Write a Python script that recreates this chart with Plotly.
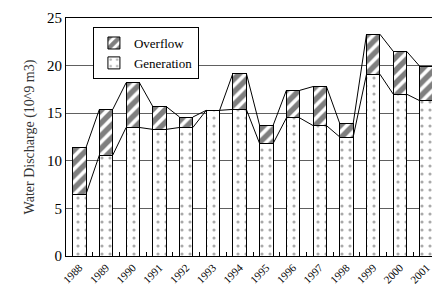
import plotly.graph_objects as go

years = ["1988", "1989", "1990", "1991", "1992", "1993", "1994",
         "1995", "1996", "1997", "1998", "1999", "2000", "2001"]
generation = [6.5, 10.6, 13.5, 13.3, 13.5, 15.3, 15.4, 11.8, 14.5, 13.7, 12.5, 19.1, 17.0, 16.3]
total = [11.4, 15.4, 18.2, 15.7, 14.6, 15.3, 19.2, 13.7, 17.4, 17.8, 13.9, 23.3, 21.5, 19.9]
overflow = [round(t - g, 2) for t, g in zip(total, generation)]

xs = list(range(len(years)))
bw = 0.5

def series_line(vals):
    lx, ly = [], []
    for i in range(len(vals) - 1):
        lx += [i + bw / 2, i + 1 - bw / 2, None]
        ly += [vals[i], vals[i + 1], None]
    return lx, ly

fig = go.Figure()
fig.add_trace(go.Bar(
    x=xs, y=generation, name="Generation", width=bw,
    marker=dict(color="white", line=dict(color="black", width=1),
                pattern=dict(shape=".", fgcolor="#555", bgcolor="white", size=8, solidity=0.12)),
))
fig.add_trace(go.Bar(
    x=xs, y=overflow, name="Overflow", width=bw,
    marker=dict(color="white", line=dict(color="black", width=1),
                pattern=dict(shape="/", fgcolor="black", bgcolor="white", size=9, solidity=0.6)),
))
for vals in (generation, total):
    lx, ly = series_line(vals)
    fig.add_trace(go.Scatter(x=lx, y=ly, mode="lines", line=dict(color="black", width=1),
                             showlegend=False, hoverinfo="skip"))

font = "Liberation Serif, Times New Roman, serif"
fig.update_layout(
    width=432, height=283,
    margin=dict(l=58, r=0, t=10, b=35),
    barmode="stack",
    plot_bgcolor="white", paper_bgcolor="white",
    font=dict(family=font, color="black", size=12),
    legend=dict(x=0.072, y=0.962, xanchor="left", yanchor="top",
                bordercolor="black", borderwidth=1, bgcolor="white",
                traceorder="reversed", font=dict(size=13, family=font),
                itemwidth=30, tracegroupgap=0),
    showlegend=True,
)
fig.update_xaxes(
    range=[-0.5, len(years) - 0.5],
    tickmode="array", tickvals=xs, ticktext=years, tickangle=-45,
    ticks="", tickfont=dict(size=11, family=font),
    showgrid=False, showline=True, linecolor="black", linewidth=1, mirror=True,
    zeroline=False,
    minor=dict(tickmode="array", tickvals=[i + 0.5 for i in xs[:-1]],
               ticks="inside", ticklen=4, tickcolor="black", showgrid=False),
)
fig.update_yaxes(
    range=[0, 25], tickmode="array", tickvals=[0, 5, 10, 15, 20, 25],
    ticks="", tickfont=dict(size=15, family=font),
    showgrid=True, gridcolor="#606060", gridwidth=1,
    showline=True, linecolor="black", linewidth=1, mirror=True, zeroline=False,
    title=dict(text="Water Discharge (10^9 m3)", font=dict(size=14, family=font, color="#333"),
               standoff=9),
)
fig.write_html("out.html")
